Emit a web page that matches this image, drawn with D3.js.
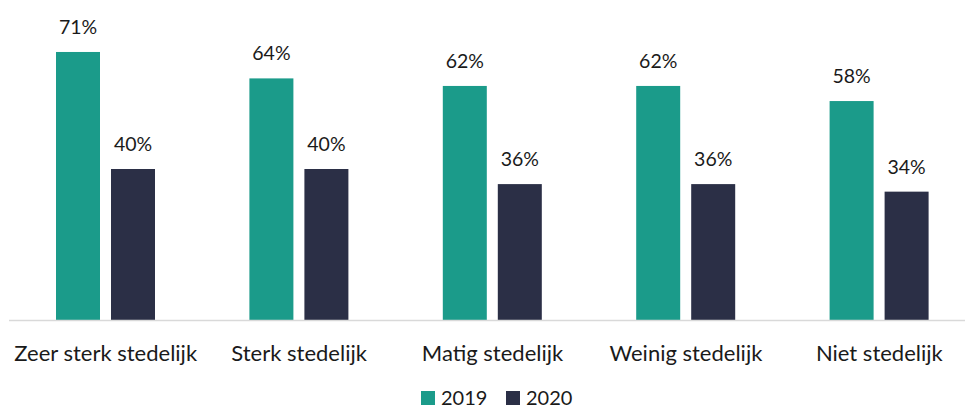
<!DOCTYPE html>
<html>
<head>
<meta charset="utf-8">
<script src="https://cdn.jsdelivr.net/npm/d3@7"></script>
<style>
  body { margin: 0; background: #fff; }
  text { font-family: Lato, "Open Sans", sans-serif; fill: #1a1a1a; }
</style>
</head>
<body>
<div id="chart"></div>
<script>
const categories = ["Zeer sterk stedelijk", "Sterk stedelijk", "Matig stedelijk", "Weinig stedelijk", "Niet stedelijk"];
const seriesNames = ["2019", "2020"];
const values2019 = [71, 64, 62, 62, 58];
const values2020 = [40, 40, 36, 36, 34];
const colors = ["#1b9b8a", "#2b2f46"];

const width = 965, height = 413;
const baseline = 320;

const svg = d3.select('#chart')
  .append('svg')
    .attr('width', width)
    .attr('height', height);

const x = d3.scaleBand()
    .domain(categories)
    .range([9, 976])
    .paddingInner(0)
    .paddingOuter(0);

const inner = d3.scaleBand()
    .domain(seriesNames)
    .range([47, 146])
    .paddingInner(0.2);

const y = d3.scaleLinear()
    .domain([0, 100])
    .range([baseline, baseline - 377.5]);

const rows = categories.map((c, i) => ({ cat: c, vals: [values2019[i], values2020[i]] }));

const groups = svg.append('g')
  .selectAll('g')
  .data(rows)
  .join('g')
    .attr('transform', d => `translate(${x(d.cat)},0)`);

groups.selectAll('rect')
  .data(d => d.vals.map((v, j) => ({ key: seriesNames[j], v, j })))
  .join('rect')
    .attr('x', d => inner(d.key))
    .attr('y', d => y(d.v))
    .attr('width', inner.bandwidth())
    .attr('height', d => y(0) - y(d.v))
    .attr('fill', d => colors[d.j]);

groups.selectAll('text.val')
  .data(d => d.vals.map((v, j) => ({ key: seriesNames[j], v })))
  .join('text')
    .attr('class', 'val')
    .attr('x', d => inner(d.key) + inner.bandwidth() / 2)
    .attr('y', d => y(d.v) - 18)
    .attr('text-anchor', 'middle')
    .style('font-size', '19.5px')
    .text(d => d.v + '%');

// axis line
svg.append('line')
  .attr('x1', 9).attr('x2', width)
  .attr('y1', baseline + 0.5).attr('y2', baseline + 0.5)
  .attr('stroke', '#d9d9d9')
  .attr('stroke-width', 1.5);

const xAxis = d3.axisBottom(x).tickSize(0).tickPadding(0);
const ax = svg.append('g')
  .attr('transform', `translate(0,${baseline})`)
  .call(xAxis);
ax.select('.domain').remove();
ax.selectAll('text')
  .attr('y', 41)
  .attr('dy', 0)
  .style('font-size', '22px')
  .style('font-family', 'Lato, "Open Sans", sans-serif')
  .attr('fill', '#1a1a1a');

// legend
const legendX = [421, 506];
const legend = svg.append('g')
  .selectAll('g')
  .data(seriesNames)
  .join('g')
    .attr('transform', (d, i) => `translate(${legendX[i]},391)`);
legend.append('rect')
  .attr('width', 14).attr('height', 14)
  .attr('fill', (d, i) => colors[i]);
legend.append('text')
  .attr('x', 20).attr('y', 14)
  .style('font-size', '20px')
  .text(d => d);
</script>
</body>
</html>
